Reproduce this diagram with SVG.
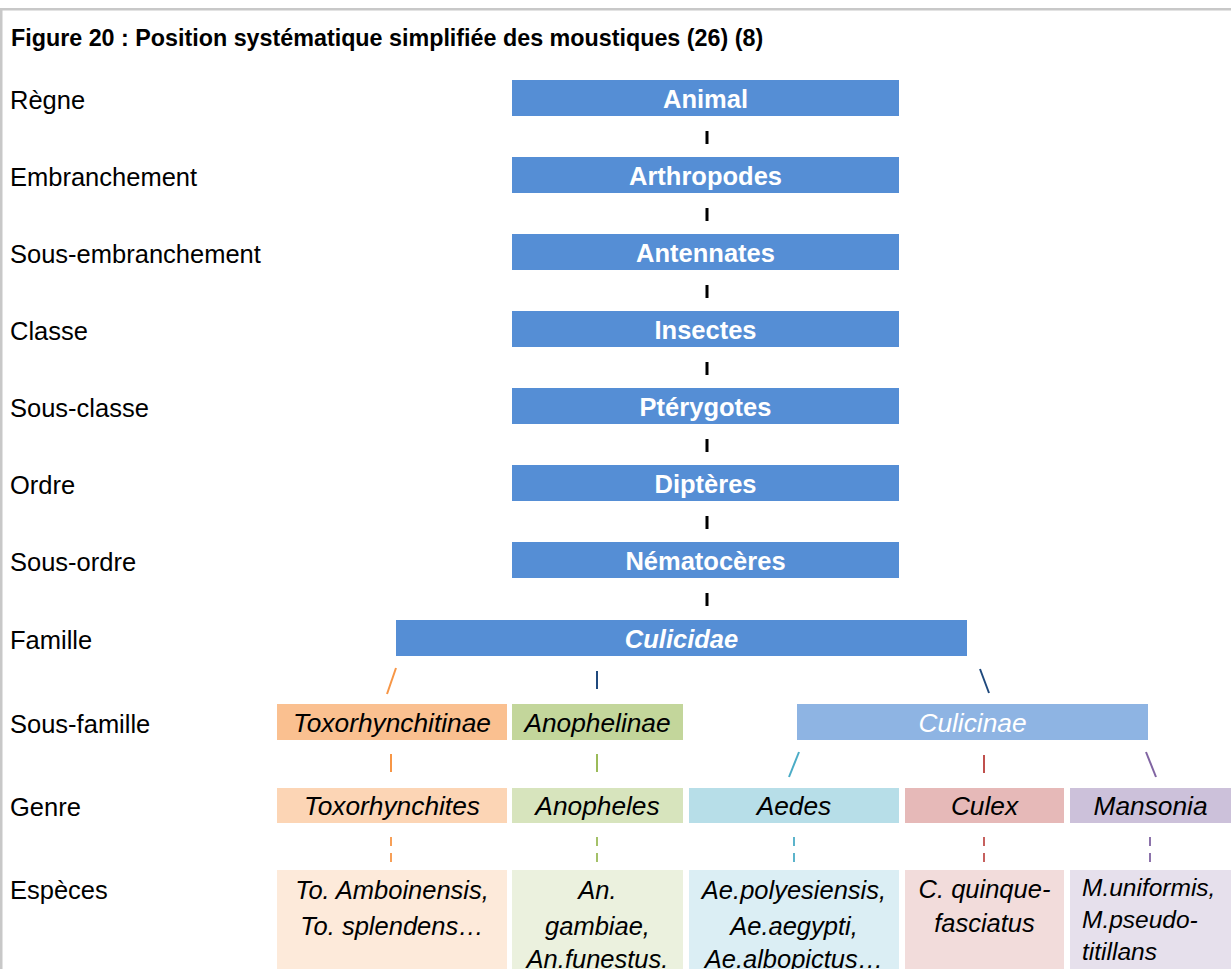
<svg xmlns="http://www.w3.org/2000/svg" width="1231" height="969" viewBox="0 0 1231 969">
<style>
text{font-family:"Liberation Sans",Arial,sans-serif;}
.lbl{font-size:25.5px;fill:#000;}
.title{font-size:23.3px;font-weight:bold;fill:#000;}
.bt{font-size:25.5px;font-weight:bold;fill:#fff;text-anchor:middle;}
.it{font-size:26.3px;font-style:italic;fill:#000;text-anchor:middle;}
.sp{font-size:25.5px;font-style:italic;fill:#000;text-anchor:middle;}
.ms{font-size:24.5px;font-style:italic;fill:#000;}
.blue{fill:#558ED5;}
.tick{fill:#000;}
.c{stroke-width:2;fill:none;}
.d{stroke-width:1.8;fill:none;stroke-dasharray:9 7;}
</style>
<rect x="0" y="0" width="1231" height="969" fill="#fff"/>
<g id="frame">
<rect x="0" y="8" width="1231" height="2.5" fill="#C8C8C8"/>
<rect x="0" y="8" width="2.5" height="961" fill="#C8C8C8"/>
</g>
<text class="title" x="11" y="46">Figure 20 : Position systématique simplifiée des moustiques (26) (8)</text>
<g id="rank-labels">
<text class="lbl" x="10" y="109">Règne</text>
<text class="lbl" x="10" y="186">Embranchement</text>
<text class="lbl" x="10" y="263">Sous-embranchement</text>
<text class="lbl" x="10" y="340">Classe</text>
<text class="lbl" x="10" y="417">Sous-classe</text>
<text class="lbl" x="10" y="494">Ordre</text>
<text class="lbl" x="10" y="571">Sous-ordre</text>
<text class="lbl" x="10" y="649">Famille</text>
<text class="lbl" x="10" y="733">Sous-famille</text>
<text class="lbl" x="10" y="816">Genre</text>
<text class="lbl" x="10" y="899">Espèces</text>
</g>
<g id="connectors">
<rect class="tick" x="705.5" y="131" width="3" height="13"/>
<rect class="tick" x="705.5" y="208" width="3" height="13"/>
<rect class="tick" x="705.5" y="285" width="3" height="13"/>
<rect class="tick" x="705.5" y="362" width="3" height="13"/>
<rect class="tick" x="705.5" y="439" width="3" height="13"/>
<rect class="tick" x="705.5" y="516" width="3" height="13"/>
<rect class="tick" x="705.5" y="593" width="3" height="13"/>
<line class="c" stroke="#F79646" x1="396" y1="668" x2="387" y2="694"/>
<line class="c" stroke="#1F497D" x1="597" y1="671" x2="597" y2="689"/>
<line class="c" stroke="#1F497D" x1="980" y1="669" x2="989" y2="693"/>
<line class="c" stroke="#F79646" x1="391" y1="754" x2="391" y2="772"/>
<line class="c" stroke="#9BBB59" x1="597" y1="754" x2="597" y2="772"/>
<line class="c" stroke="#4BACC6" x1="799" y1="752" x2="789" y2="777"/>
<line class="c" stroke="#C0504D" x1="984" y1="755" x2="984" y2="773"/>
<line class="c" stroke="#8064A2" x1="1146" y1="752" x2="1156" y2="777"/>
<line class="d" stroke="#F79646" x1="391" y1="837" x2="391" y2="862"/>
<line class="d" stroke="#9BBB59" x1="597" y1="837" x2="597" y2="862"/>
<line class="d" stroke="#4BACC6" x1="794" y1="837" x2="794" y2="862"/>
<line class="d" stroke="#C0504D" x1="984" y1="837" x2="984" y2="862"/>
<line class="d" stroke="#8064A2" x1="1150" y1="837" x2="1150" y2="862"/>
</g>
<g id="animal"><rect class="blue" x="512" y="80" width="387" height="36"/><text class="bt" x="705.5" y="108">Animal</text></g>
<g id="arthropodes"><rect class="blue" x="512" y="157" width="387" height="36"/><text class="bt" x="705.5" y="185">Arthropodes</text></g>
<g id="antennates"><rect class="blue" x="512" y="234" width="387" height="36"/><text class="bt" x="705.5" y="262">Antennates</text></g>
<g id="insectes"><rect class="blue" x="512" y="311" width="387" height="36"/><text class="bt" x="705.5" y="339">Insectes</text></g>
<g id="pterygotes"><rect class="blue" x="512" y="388" width="387" height="36"/><text class="bt" x="705.5" y="416">Ptérygotes</text></g>
<g id="dipteres"><rect class="blue" x="512" y="465" width="387" height="36"/><text class="bt" x="705.5" y="493">Diptères</text></g>
<g id="nematoceres"><rect class="blue" x="512" y="542" width="387" height="36"/><text class="bt" x="705.5" y="570">Nématocères</text></g>
<g id="culicidae"><rect class="blue" x="396" y="620" width="571" height="36"/><text class="bt" x="681.5" y="648" font-style="italic">Culicidae</text></g>
<g id="toxorhynchitinae"><rect x="277" y="704" width="230" height="36" fill="#FAC090"/><text class="it" x="392" y="732">Toxorhynchitinae</text></g>
<g id="anophelinae"><rect x="512" y="704" width="171" height="36" fill="#C3D69B"/><text class="it" x="597.5" y="732">Anophelinae</text></g>
<g id="culicinae"><rect x="797" y="704" width="351" height="36" fill="#8EB4E3"/><text class="it" x="972.5" y="732" style="fill:#fff">Culicinae</text></g>
<g id="toxorhynchites"><rect x="277" y="788" width="230" height="35" fill="#FCD5B5"/><text class="it" x="392" y="815">Toxorhynchites</text></g>
<g id="anopheles"><rect x="512" y="788" width="171" height="35" fill="#D7E4BD"/><text class="it" x="597.5" y="815">Anopheles</text></g>
<g id="aedes"><rect x="689" y="788" width="210" height="35" fill="#B7DEE8"/><text class="it" x="794" y="815">Aedes</text></g>
<g id="culex"><rect x="905" y="788" width="159" height="35" fill="#E6B9B8"/><text class="it" x="984.5" y="815">Culex</text></g>
<g id="mansonia"><rect x="1070" y="788" width="161" height="35" fill="#CCC1DA"/><text class="it" x="1150.5" y="815">Mansonia</text></g>
<g id="sp-toxorhynchites"><rect x="277" y="870" width="230" height="99" fill="#FDEADA"/>
<text class="sp" x="392" y="899">To. Amboinensis,</text><text class="sp" x="392" y="935">To. splendens…</text></g>
<g id="sp-anopheles"><rect x="512" y="870" width="171" height="99" fill="#EBF1DE"/>
<text class="sp" x="597.5" y="899">An.</text><text class="sp" x="597.5" y="935">gambiae,</text><text class="sp" x="597.5" y="968">An.funestus.</text></g>
<g id="sp-aedes"><rect x="689" y="870" width="210" height="99" fill="#DBEEF4"/>
<text class="sp" x="794" y="899">Ae.polyesiensis,</text><text class="sp" x="794" y="935">Ae.aegypti,</text><text class="sp" x="794" y="968">Ae.albopictus…</text></g>
<g id="sp-culex"><rect x="905" y="870" width="159" height="99" fill="#F2DCDB"/>
<text class="sp" x="984.5" y="898">C. quinque-</text><text class="sp" x="984.5" y="932">fasciatus</text></g>
<g id="sp-mansonia"><rect x="1070" y="870" width="161" height="99" fill="#E6E0EC"/>
<text class="ms" x="1082" y="896">M.uniformis,</text><text class="ms" x="1082" y="928">M.pseudo-</text><text class="ms" x="1082" y="960">titillans</text></g>
</svg>
